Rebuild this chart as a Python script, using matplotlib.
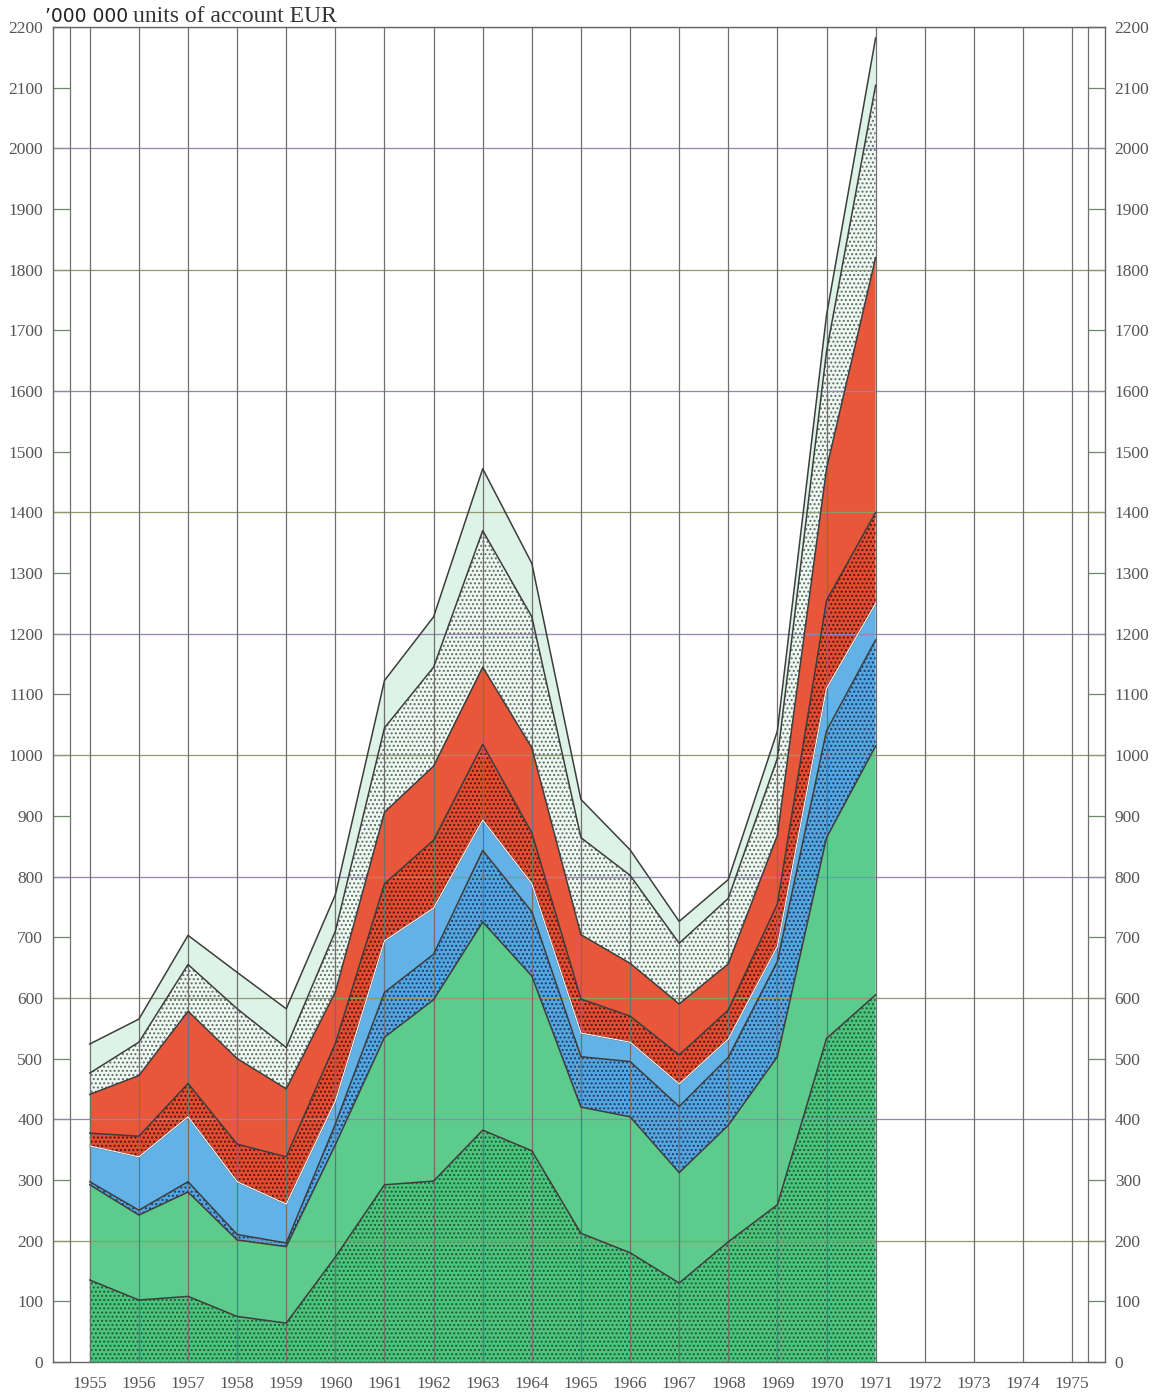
import numpy as np
import matplotlib.pyplot as plt

plt.rcParams['hatch.linewidth'] = 0.95

# years shown on the axis and years with data
axis_years = list(range(1955, 1976))
years = list(range(1955, 1972))

# cumulative top of each band, bottom to top
dotted_green_top = [135, 102, 108, 75, 64, 173, 292, 298, 382, 348, 212, 180, 130, 198, 259, 533, 605]
green_top = [292, 242, 280, 201, 190, 358, 535, 597, 725, 636, 420, 404, 312, 390, 503, 864, 1015]
dotted_blue_top = [297, 250, 297, 210, 196, 392, 609, 672, 843, 742, 503, 495, 421, 502, 660, 1040, 1190]
blue_top = [356, 338, 404, 297, 260, 430, 694, 748, 893, 788, 542, 527, 458, 532, 685, 1110, 1250]
dotted_red_top = [377, 372, 459, 359, 338, 525, 788, 860, 1018, 872, 598, 570, 506, 580, 755, 1255, 1400]
red_top = [441, 472, 578, 500, 450, 610, 906, 982, 1145, 1012, 704, 657, 590, 656, 868, 1472, 1820]
dotted_pale_top = [476, 527, 655, 582, 518, 710, 1045, 1145, 1370, 1228, 864, 802, 690, 764, 995, 1665, 2104]
pale_top = [524, 565, 703, 642, 582, 770, 1123, 1228, 1472, 1316, 927, 844, 726, 795, 1040, 1725, 2182]

y_ticks = list(range(0, 2201, 100))
grid_levels = list(range(200, 2201, 200))

tops = [dotted_green_top, green_top, dotted_blue_top, blue_top,
        dotted_red_top, red_top, dotted_pale_top, pale_top]
# (face colour, dot colour or None)
styles = [('#4cc47d', '#1c5a37'),
          ('#5ccb8c', None),
          ('#55a6e0', '#1b3a64'),
          ('#62b2e8', None),
          ('#e24c31', '#4e150c'),
          ('#e9573b', None),
          ('#eef8f2', '#5d6a64'),
          ('#def3e8', None)]

fig = plt.figure(figsize=(11.59, 13.92), dpi=100)
ax = fig.add_axes([0.0457, 0.0216, 0.9077, 0.959])

bottom = np.zeros(len(years))
for top, (face, dots) in zip(tops, styles):
    top = np.array(top, dtype=float)
    if dots:
        ax.fill_between(years, bottom, top, facecolor=face, edgecolor=dots,
                        hatch='....', linewidth=0, zorder=1)
    else:
        ax.fill_between(years, bottom, top, facecolor=face, linewidth=0, zorder=1)
    bottom = top

# grid
for i, lvl in enumerate(grid_levels):
    ax.axhline(lvl, color=['#8e9a6c', '#9686ad'][i % 2], lw=0.9, zorder=2)
for yr in axis_years:
    ax.axvline(yr, color='#707070', lw=0.9, zorder=2)
ax.axvline(1954.6, color='#707070', lw=0.9, zorder=2)
ax.axvline(1975.33, color='#707070', lw=0.9, zorder=2)

# band edges
for top in tops:
    ax.plot(years, top, color='#3d3d3d', lw=1.1, zorder=3)
ax.plot(years, blue_top, color='white', lw=0.8, zorder=3)

ax.set_xlim(1954.25, 1975.67)
ax.set_ylim(0, 2200)
ax.set_xticks(axis_years)
ax.set_xticklabels([str(y) for y in axis_years])
ax.set_yticks(y_ticks)
ax.set_yticklabels([str(v) for v in y_ticks])
ax.tick_params(axis='x', length=0, pad=10, labelsize=12.5, labelcolor='#555555')
ax.tick_params(axis='y', direction='in', length=12.3, width=0.9, color='#6a8a6a',
               left=True, right=True, labelleft=True, labelright=True,
               pad=7, labelsize=12.5, labelcolor='#555555')
for t in ax.xaxis.get_major_ticks() + ax.yaxis.get_major_ticks():
    t.label1.set_family('Liberation Serif')
    t.label2.set_family('Liberation Serif')
for sp in ax.spines.values():
    sp.set_color('#666666')
    sp.set_linewidth(1.0)

fig.text(45 / 1159, 1 - 17 / 1392, '\u2019000 000', family='DejaVu Sans',
         fontsize=13.5, va='center', ha='left', color='#222222')
fig.text(133 / 1159, 1 - 17 / 1392, 'units of account EUR', family='Liberation Serif',
         fontsize=17, va='center', ha='left', color='#333333')

fig.savefig('out.png', dpi=100)
